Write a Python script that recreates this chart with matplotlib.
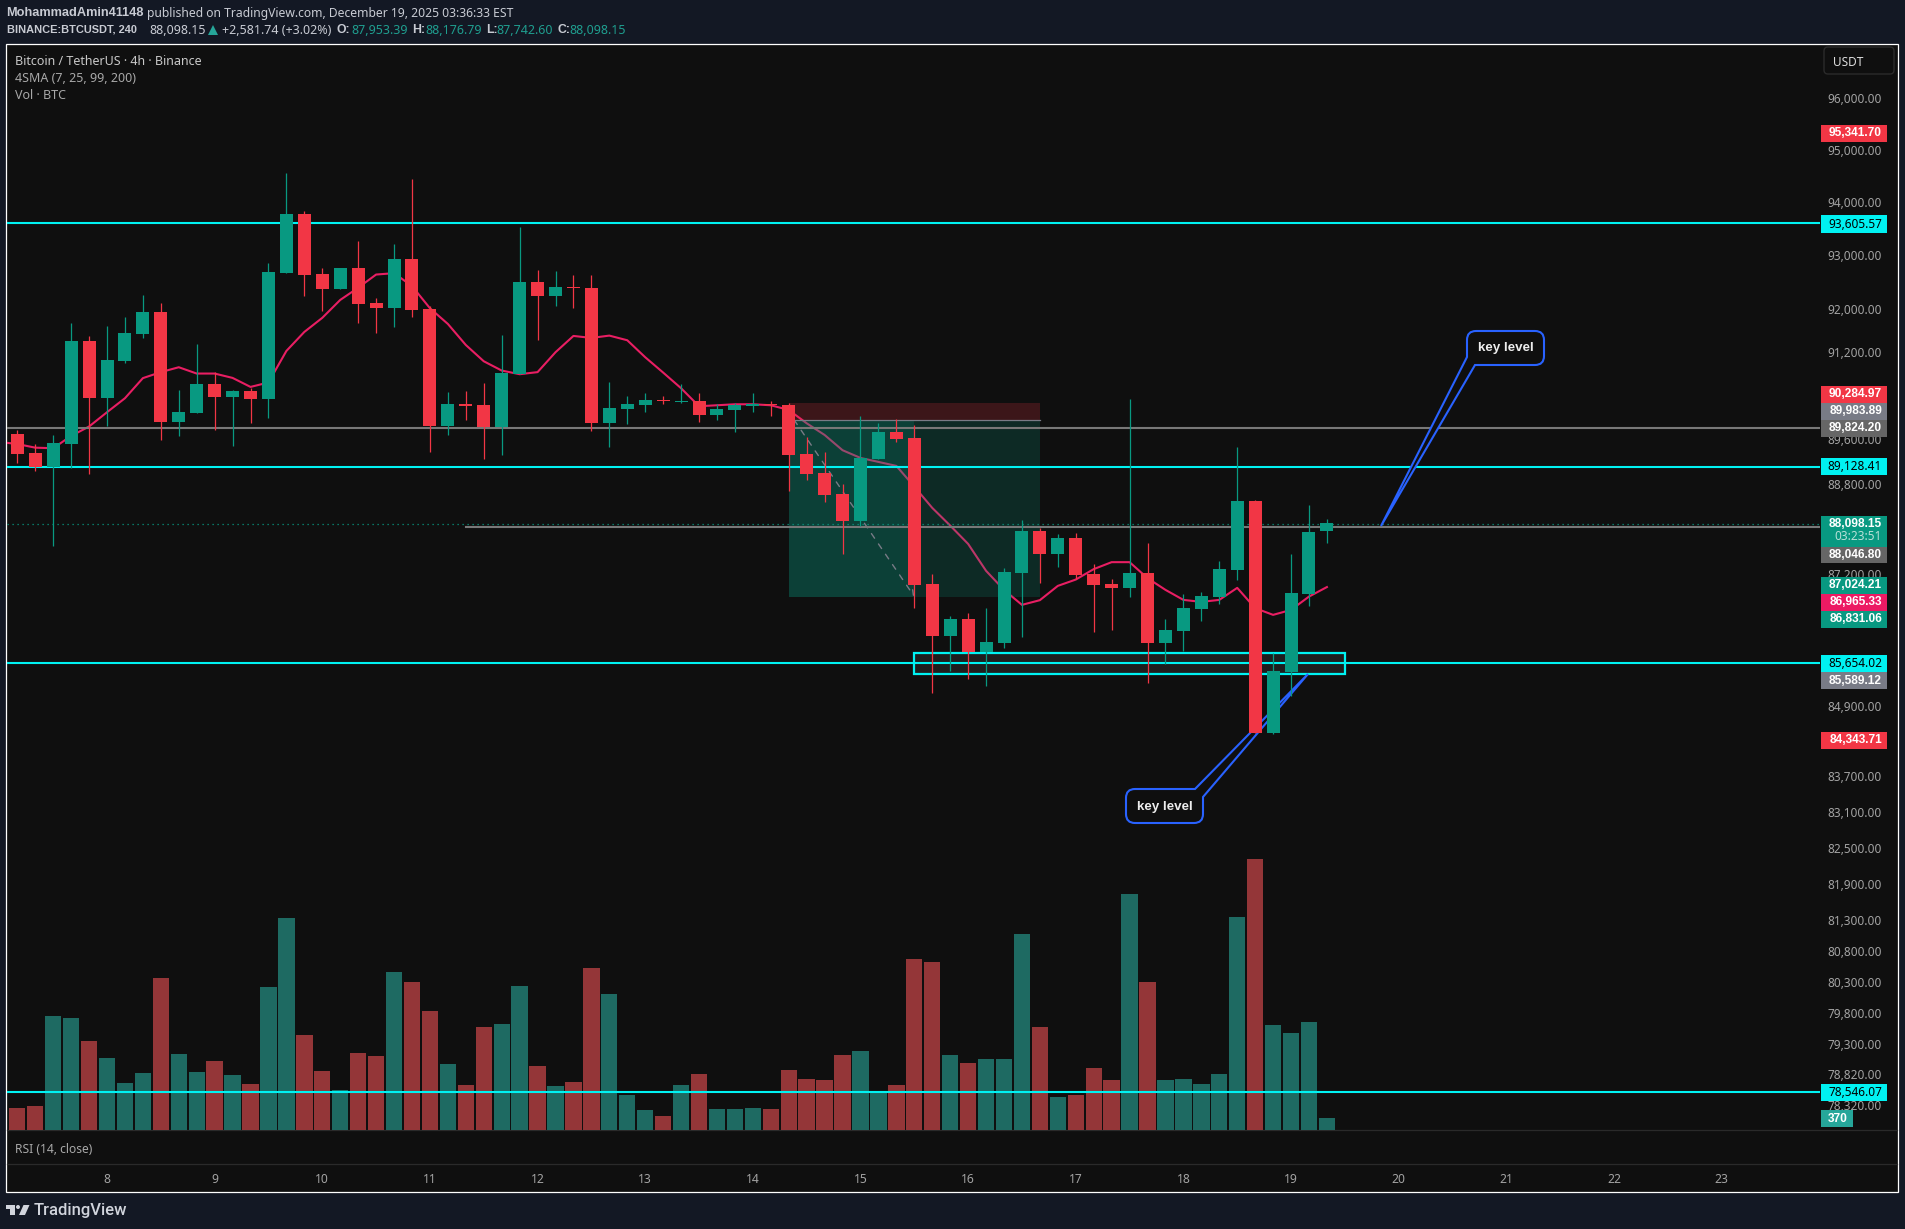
import numpy as np
import matplotlib
matplotlib.use("Agg")
import matplotlib.pyplot as plt
from matplotlib.patches import Rectangle, PathPatch, FancyBboxPatch, Polygon, Circle
from matplotlib.path import Path
from matplotlib.transforms import Affine2D

plt.rcParams['font.family'] = ['Noto Sans', 'DejaVu Sans']

# ---------- data ----------
opens = [89698,89355,89103,89516,91401,90353,91032,91530,91939,89916,90080,90610,90371,90482,90335,92666,93778,92648,92366,92760,
         92106,92013,92928,91994,89845,90244,90226,89827,90795,92497,92235,92404,92385,89898,90153,90226,90317,90280,90298,90044,
         90135,90208,90244,90226,89337,88995,88618,88137,89247,89735,89626,87022,86112,86408,85833,85990,87216,87959,87550,87834,
         87198,87022,86951,87216,85990,86200,86583,86793,87269,88493,84441,85487,86845,87953.39]
highs = [89771,89510,89680,91735,91493,91678,91847,92254,92106,90500,91345,90832,90500,90537,92853,94553,93834,92760,92760,93266,
         92198,93210,94447,92050,90464,90482,90629,91512,93531,92723,92704,92629,92629,90647,90389,90444,90389,90610,90444,90244,
         90262,90444,90298,90257,89644,89373,88798,90026,89898,89971,89862,87198,86460,86513,86600,87304,88155,88012,87905,87923,
         87374,87110,90335,87745,86408,86845,86880,87427,89463,88510,85815,87550,88421,88176.79]
lows = [89180,89031,87692,89085,88977,89845,90997,91456,89590,89662,90070,89771,89481,89898,89989,92666,92235,91957,92366,91735,
        91549,91660,91847,89373,89680,89953,89247,89319,90795,91419,92050,92013,89753,89463,89880,90098,90244,90262,89916,89953,
        89735,90098,90026,88671,88870,88475,87550,88048,89247,89553,86600,85125,85504,85367,85246,85902,86095,87040,87322,87110,
        86182,86217,86793,85298,85625,85850,86373,86670,87092,84441,84423,85073,86635,87742.60]
closes = [89337,89103,89535,91401,90353,91050,91549,91939,89916,90098,90610,90371,90482,90335,92685,93778,92629,92366,92760,92087,
          92013,92928,91976,89845,90244,90208,89827,90813,92497,92235,92404,92385,89898,90171,90244,90317,90298,90298,90044,90153,
          90226,90244,90226,89319,88977,88600,88137,89265,89735,89608,87005,86112,86408,85833,86007,87234,87959,87550,87834,87180,
          87005,86951,87216,85990,86217,86600,86810,87287,88493,84441,85504,86863,87941,88098.15]
sma7 = [89553,89516,89450,89440,89662,89833,90093,90348,90716,90826,90916,90800,90800,90720,90555,90636,91216,91567,91828,92161,
        92388,92635,92661,92420,92007,91715,91326,91026,90855,90788,90826,91192,91493,91456,91499,91413,91100,90818,90531,90202,
        90220,90238,90238,90220,90135,89892,89680,89404,89265,89193,89121,88749,88368,88053,87727,87251,86916,86653,86735,86986,
        87097,87281,87404,87404,87122,86916,86740,86705,86740,86951,86595,86478,86565,86798,86965.33]
volumes = [678,740,3515,3453,2744,2220,1449,1758,4687,2343,1788,2128,1696,1418,4410,6537,2930,1819,1233,2374,
           2282,4872,4564,3670,2035,1388,3176,3269,4441,1974,1357,1480,4996,4194,1079,617,432,1388,1727,648,
           648,678,648,1850,1573,1542,2313,2436,1151,1388,5273,5180,2313,2066,2189,2189,6044,3176,1018,1079,
           1912,1542,7278,4564,1542,1573,1418,1727,6569,8357,3238,2991,3331,370]

# levels
cyan_levels = [93601, 89108, 85648, 78532]
grey_level_full = 89812
grey_level_part = 88035
last_price = 88078
stop_price = 90262
entry_price = 89953
target_price = 86798
zone_top, zone_bottom = 85807, 85443

price_ticks = [96000,95000,94000,93000,92000,91200,89600,88800,87200,84900,83700,83100,82500,81900,81300,80800,80300,79800,79300,78820,78320]
day_labels = ['8','9','10','11','12','13','14','15','16','17','18','19','20','21','22','23']
day_first_bar = 5
bars_per_day = 6

# (text, centre row, fill, text colour)
price_tags = [
    ('95,341.70', 133.3, '#F23645', 'white'),
    ('93,605.57', 224.0, '#00F2F2', 'black'),
    ('90,284.97', 394.3, '#F23645', 'white'),
    ('89,983.89', 411.0, '#787B86', 'white'),
    ('89,824.20', 428.0, '#666666', 'white'),
    ('89,128.41', 466.7, '#00F2F2', 'black'),
    ('88,046.80', 555.0, '#666666', 'white'),
    ('87,024.21', 585.3, '#089981', 'white'),
    ('86,965.33', 602.0, '#EC1A63', 'white'),
    ('86,831.06', 619.3, '#089981', 'white'),
    ('85,654.02', 663.3, '#00F2F2', 'black'),
    ('85,589.12', 680.7, '#787B86', 'white'),
    ('84,343.71', 740.3, '#F23645', 'white'),
    ('78,546.07', 1092.0, '#00F2F2', 'black'),
]

# ---------- layout ----------
W, H = 1905, 1229
BG = '#0F0F0F'
PAGE = '#131824'
GREEN, RED = '#089981', '#F23645'
VGREEN, VRED = '#1E6A62', '#943638'
CYAN = '#00F2F2'
GREY = '#787878'
BLUE = '#2962FF'
TICK = '#A3A3A3'
X0, DX = 17.3, 17.94
PL, PR, PT, PB = 7, 1820, 44, 1130
BOLD = dict(family='Liberation Sans', fontweight='bold')
TAGB = 8.6
# log price scale: row = 98 + 4948 ln(96000 / price)
def row2price(r):
    return 96000 * np.exp((98 - r) / 4948)

fig = plt.figure(figsize=(W / 100, H / 100), dpi=100, facecolor=PAGE)
def fx(x): return x / W
def fy(y): return 1 - y / H
px = Affine2D().scale(1, -1).translate(0, H)  # image pixels to display

fig.add_artist(Rectangle((fx(6), fy(1192)), fx(1898) - fx(6), fy(44) - fy(1192), transform=fig.transFigure,
                         fc=BG, ec='white', lw=0.9, zorder=-1))

pos = [fx(PL), fy(PB), fx(PR) - fx(PL), fy(PT) - fy(PB)]
ax_vol = fig.add_axes(pos, zorder=1)
ax = fig.add_axes(pos, zorder=2, sharex=ax_vol)
ax.patch.set_visible(False)
ax_vol.patch.set_visible(False)
xlim = ((PL - X0) / DX, (PR - X0) / DX)

# volume
idx = np.arange(len(opens))
up = np.array(closes) >= np.array(opens)
ax_vol.bar(idx, volumes, width=0.91, color=[VGREEN if u else VRED for u in up], linewidth=0)
ax_vol.set_ylim(0, (PB - PT) * 3 * 370 / 36)
ax_vol.axis('off')

# price scale
ax.set_yscale('log')
ax.set_ylim(row2price(PB), row2price(PT))
ax.set_xlim(*xlim)
ax_vol.set_xlim(*xlim)
ax.minorticks_off()
ax.yaxis.tick_right()
ax.set_yticks(price_ticks)
ax.set_yticklabels([f'{t:,.2f}' for t in price_ticks], fontsize=8.5, color=TICK, ha='right')
ax.tick_params(axis='y', which='both', length=0, pad=44.5)
ax.tick_params(axis='y', which='minor', labelright=False)
ax.tick_params(axis='x', which='both', length=0, labelbottom=False)
for s in ax.spines.values():
    s.set_visible(False)

# SMA
ax.plot(np.arange(-1, len(sma7) - 1), sma7, color='#E91E63', lw=1.5, zorder=2, solid_joinstyle='round')

# long position box
ax.add_patch(Rectangle((43, entry_price), 14, stop_price - entry_price, fc=RED, alpha=0.2, lw=0, zorder=3))
ax.add_patch(Rectangle((43, target_price), 14, entry_price - target_price, fc=GREEN, alpha=0.2, lw=0, zorder=3))
ax.add_patch(Rectangle((43, target_price), 7, entry_price - target_price, fc=GREEN, alpha=0.2, lw=0, zorder=3))
ax.plot([43, 57], [entry_price, entry_price], color='#787B86', lw=0.9, zorder=3.2)
ax.annotate('', xy=(50, target_price), xytext=(43.3, entry_price), zorder=3.2,
            arrowprops=dict(arrowstyle='->', color='#787B86', lw=1, linestyle=(0, (4, 5)), shrinkA=0, shrinkB=0, mutation_scale=9))

# key zone
ax.add_patch(Rectangle((50, zone_bottom), 24, zone_top - zone_bottom, fc='#1E1E1E', ec=CYAN, lw=1.6, zorder=3.5))

# level lines
for lv in cyan_levels:
    ax.axhline(lv, color=CYAN, lw=1.5, zorder=4)
ax.axhline(grey_level_full, color=GREY, lw=1.5, zorder=4)
ax.plot([25, xlim[1]], [grey_level_part] * 2, color=GREY, lw=1.5, zorder=4)
ax.axhline(last_price, color=GREEN, lw=0.9, linestyle=(0, (1, 3)), zorder=4)

# callouts
def callout(verts_codes, cx, cy):
    verts, codes = zip(*verts_codes)
    ax.add_patch(PathPatch(Path(verts, codes), transform=px, fc=BG, ec=BLUE, lw=1.5, zorder=4.5, clip_on=False))
    ax.text(cx, cy, 'key level', transform=px, color='#EDEDED', fontsize=9.6, ha='center', va='center', zorder=4.6, **BOLD)

M, L, Q, C = Path.MOVETO, Path.LINETO, Path.CURVE3, Path.CLOSEPOLY
r = 9
x0, x1, y0, y1 = 1467, 1544, 331, 365
callout([((x0 + r, y0), M), ((x1 - r, y0), L), ((x1, y0), Q), ((x1, y0 + r), Q), ((x1, y1 - r), L), ((x1, y1), Q), ((x1 - r, y1), Q),
         ((1475, y1), L), ((1381, 526), L), ((x0, 357), L), ((x0, y0 + r), L), ((x0, y0), Q), ((x0 + r, y0), Q), ((x0 + r, y0), C)],
        (x0 + x1) / 2, 348)
x0, x1, y0, y1 = 1126, 1203, 789, 823
callout([((x0 + r, y0), M), ((1195, y0), L), ((1308, 674), L), ((x1, 797), L), ((x1, y1 - r), L), ((x1, y1), Q), ((x1 - r, y1), Q),
         ((x0 + r, y1), L), ((x0, y1), Q), ((x0, y1 - r), Q), ((x0, y0 + r), L), ((x0, y0), Q), ((x0 + r, y0), Q), ((x0 + r, y0), C)],
        (x0 + x1) / 2, 807)

# candles
cols = [GREEN if u else RED for u in up]
ax.vlines(idx, lows, highs, colors=cols, lw=0.9, zorder=5)
o, c = np.array(opens), np.array(closes)
ax.bar(idx, np.abs(c - o), bottom=np.minimum(o, c), width=13 / DX, color=cols, linewidth=0, zorder=6)

# ---------- price tags (above tick labels) ----------
def tag(y, h, txt, fill, col, x0=1821, x1=1887):
    fig.add_artist(Rectangle((fx(x0), fy(y + h / 2)), fx(x1) - fx(x0), h / H, transform=fig.transFigure, fc=fill, lw=0, zorder=5))
    if txt:
        if col == 'white':
            fig.text(fx(1882), fy(y), txt, color=col, fontsize=TAGB, ha='right', va='center', zorder=6, **BOLD)
        else:
            fig.text(fx(1882), fy(y), txt, color=col, fontsize=8.5, ha='right', va='center', zorder=6)

for txt, y, fill, col in price_tags:
    tag(y, 17, txt, fill, col)
tag(531.5, 31, '', GREEN, 'white')
fig.text(fx(1882), fy(524), '88,098.15', color='white', fontsize=TAGB, ha='right', va='center', zorder=6, **BOLD)
fig.text(fx(1882), fy(537), '03:23:51', color='#B8E0D8', fontsize=8.5, ha='right', va='center', zorder=6)
fig.add_artist(Rectangle((fx(1821), fy(1127)), fx(1853) - fx(1821), 17 / H, transform=fig.transFigure, fc='#26A69A', lw=0, zorder=5))
fig.text(fx(1838), fy(1118.5), '370', color='white', fontsize=TAGB, ha='center', va='center', zorder=6, **BOLD)

# USDT button
fig.add_artist(FancyBboxPatch((1826, H - 72), 66, 23, boxstyle='round,pad=2,rounding_size=4', transform=None,
                              fc=BG, ec='#2B2B2B', lw=1, zorder=5))
fig.text(fx(1833), fy(62), 'USDT', color='#DDDDDD', fontsize=8.5, ha='left', va='center', zorder=6)

# ---------- panes ----------
for y in (1130, 1164):
    fig.add_artist(plt.Line2D([fx(7), fx(1897)], [fy(y), fy(y)], transform=fig.transFigure, color='#2A2A2A', lw=0.9, zorder=1))
fig.text(fx(15), fy(1149.5), 'RSI (14, close)', color='#A8A8A8', fontsize=8.7, ha='left', va='center', zorder=6)

ax_time = fig.add_axes([fx(PL), fy(1190), fx(PR) - fx(PL), fy(1165) - fy(1190)], zorder=2)
ax_time.patch.set_visible(False)
ax_time.set_xlim(*xlim)
ax_time.set_ylim(0, 1)
ax_time.set_yticks([])
ax_time.set_xticks([day_first_bar + i * bars_per_day for i in range(len(day_labels))])
ax_time.set_xticklabels(day_labels, fontsize=8.7, color=TICK)
ax_time.tick_params(axis='x', length=0, direction='in', pad=-12.2)
for s in ax_time.spines.values():
    s.set_visible(False)

# ---------- header text ----------
HF = 9.0
BF = 8.8
fig.text(fx(6.6), fy(13), 'MohammadAmin41148', color='#C8CBD3', fontsize=9.2, ha='left', va='center', **BOLD)
fig.text(fx(147), fy(13), 'published on TradingView.com, December 19, 2025 03:36:33 EST', color='#C8CBD3', fontsize=8.75, ha='left', va='center')
fig.text(fx(6.6), fy(30), 'BINANCE:BTCUSDT, 240', color='#C8CBD3', fontsize=7.95, ha='left', va='center', **BOLD)
fig.text(fx(149), fy(30), '88,098.15', color='#C8CBD3', fontsize=HF, ha='left', va='center')
fig.add_artist(Polygon([(fx(208), fy(35)), (fx(218), fy(35)), (fx(213), fy(25))], transform=fig.transFigure, fc='#26A69A', lw=0))
fig.text(fx(222), fy(30), '+2,581.74 (+3.02%)', color='#C8CBD3', fontsize=HF, ha='left', va='center')
for lab, lx, val, vx in [('O:', 336.6, '87,953.39', 351), ('H:', 411.7, '88,176.79', 425), ('L:', 486, '87,742.60', 496), ('C:', 557.6, '88,098.15', 569)]:
    fig.text(fx(lx), fy(30), lab, color='#C8CBD3', fontsize=BF, ha='left', va='center', **BOLD)
    fig.text(fx(vx), fy(30), val, color='#1F9E8F', fontsize=HF, ha='left', va='center')

fig.text(fx(15), fy(61.5), 'Bitcoin / TetherUS · 4h · Binance', color='#C8C8C8', fontsize=HF, ha='left', va='center', zorder=6)
fig.text(fx(15), fy(78.5), '4SMA (7, 25, 99, 200)', color='#A8A8A8', fontsize=HF, ha='left', va='center', zorder=6)
fig.text(fx(15), fy(95.5), 'Vol · BTC', color='#A8A8A8', fontsize=HF, ha='left', va='center', zorder=6)

# ---------- logo ----------
LOGO = '#D1D4DC'
fig.add_artist(Polygon([(fx(6), fy(1205)), (fx(14.5), fy(1205)), (fx(14.5), fy(1215)), (fx(10), fy(1215)), (fx(10), fy(1209)), (fx(6), fy(1209))],
                       transform=fig.transFigure, fc=LOGO, lw=0))
fig.add_artist(Circle((18, H - 1207), 2, transform=None, fc=LOGO, lw=0))
fig.add_artist(Polygon([(fx(23.5), fy(1205)), (fx(29.5), fy(1205)), (fx(25), fy(1215)), (fx(19), fy(1215))], transform=fig.transFigure, fc=LOGO, lw=0))
fig.text(fx(34), fy(1210.5), 'TradingView', color=LOGO, fontsize=12, family='Roboto', fontweight='medium', ha='left', va='center')

fig.savefig('out.png', dpi=100, facecolor=PAGE)
